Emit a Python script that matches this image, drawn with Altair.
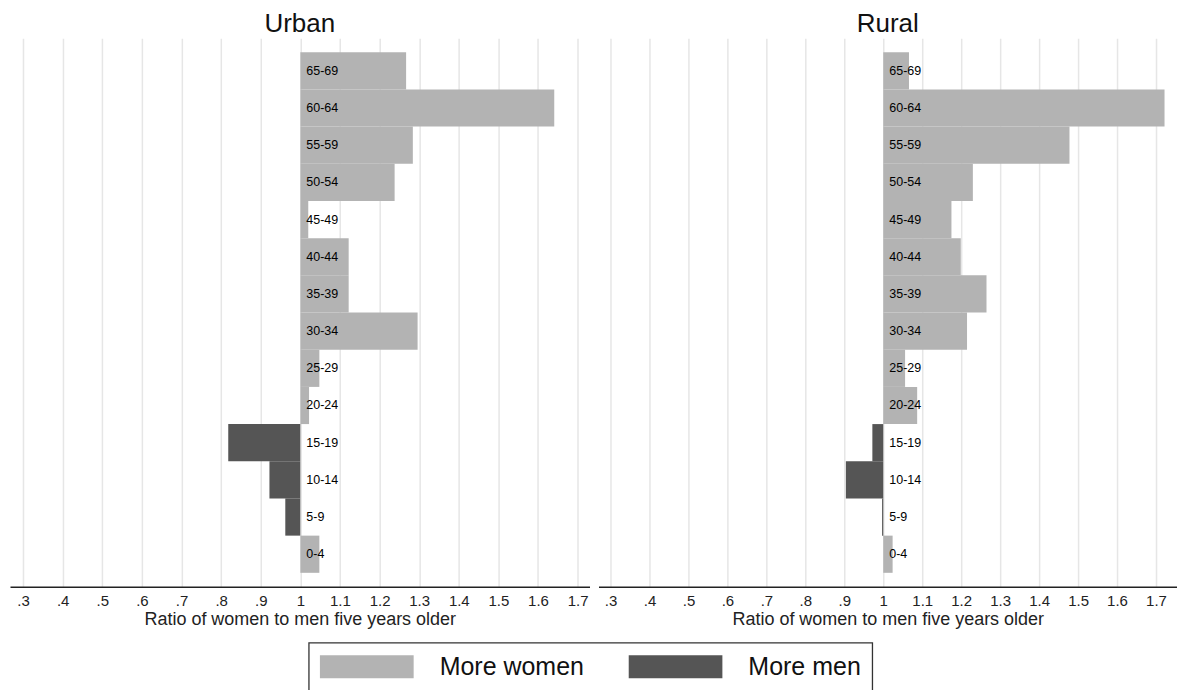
import altair as alt
import pandas as pd

age_groups = ["0-4", "5-9", "10-14", "15-19", "20-24", "25-29", "30-34",
              "35-39", "40-44", "45-49", "50-54", "55-59", "60-64", "65-69"]
urban = [1.048, 0.962, 0.922, 0.818, 1.022, 1.048, 1.296,
         1.122, 1.122, 1.020, 1.238, 1.284, 1.641, 1.267]
rural = [1.024, 0.997, 0.904, 0.972, 1.087, 1.056, 1.215,
         1.265, 1.199, 1.175, 1.230, 1.478, 1.722, 1.066]
panels = ["Urban", "Rural"]
tick_values = [0.3, 0.4, 0.5, 0.6, 0.7, 0.8, 0.9, 1.0, 1.1, 1.2, 1.3, 1.4, 1.5, 1.6, 1.7]
tick_labels = [".3", ".4", ".5", ".6", ".7", ".8", ".9", "1", "1.1", "1.2", "1.3", "1.4", "1.5", "1.6", "1.7"]
legend_labels = ["More women", "More men"]
colors = ["#b3b3b3", "#555555"]
x_title = "Ratio of women to men five years older"

rows = []
for area, vals in zip(panels, [urban, rural]):
    for a, v in zip(age_groups, vals):
        rows.append({"area": area, "age": a, "value": v,
                     "group": legend_labels[0] if v >= 1 else legend_labels[1]})
df = pd.DataFrame(rows)

label_map = "{" + ", ".join(f"'{v:g}': '{l}'" for v, l in zip(tick_values, tick_labels)) + "}"
label_expr = f"{label_map}[toString(datum.value)]"

FONT = "Liberation Sans"


def panel(area, domain, width):
    base = alt.Chart(df).transform_filter(alt.datum.area == area)
    y = alt.Y("age:N", sort=age_groups[::-1], axis=None,
              scale=alt.Scale(paddingInner=0, paddingOuter=0.376))
    xaxis = alt.Axis(values=tick_values, labelExpr=label_expr, title=x_title,
                     grid=True, gridColor="#e6e6e6", gridWidth=1.5,
                     ticks=False, domainColor="#222222", domainWidth=1.4,
                     labelFont=FONT, labelFontSize=15, labelColor="#222222",
                     labelPadding=7, titleFont=FONT, titleFontSize=18,
                     titleFontWeight="normal", titleColor="#222222", titlePadding=2)
    bars = base.mark_bar(strokeWidth=0).encode(
        x=alt.X("value:Q", scale=alt.Scale(domain=domain, zero=False, nice=False), axis=xaxis),
        x2=alt.datum(1),
        y=y,
        color=alt.Color("group:N",
                        scale=alt.Scale(domain=legend_labels, range=colors),
                        legend=alt.Legend(title=None)),
    )
    text = base.mark_text(align="left", baseline="middle", dx=6, font=FONT,
                          fontSize=12.5, color="#000000").encode(
        x=alt.datum(1), y=y, text="age:N")
    return alt.layer(bars, text).properties(
        width=width, height=549,
        title=alt.Title(area, fontSize=26, font=FONT, fontWeight="normal",
                        color="#111111", anchor="middle", offset=1))


left = panel("Urban", [0.267, 1.73], 580)
right = panel("Rural", [0.269, 1.754], 579)

chart = alt.hconcat(left, right, spacing=9).properties(
    padding={"left": 2, "top": 3, "right": 0, "bottom": 0}
).configure_view(stroke=None).configure_legend(
    orient="none", legendX=299, legendY=605, direction="horizontal",
    strokeColor="#333333", strokeWidth=1.3, fillColor="white", padding=11,
    symbolType="M-1,-0.245L1,-0.245L1,0.245L-1,0.245Z", symbolSize=8836,
    symbolStrokeWidth=0, symbolOpacity=1, labelFont=FONT, labelFontSize=25,
    labelColor="#111111", labelOffset=26, columnPadding=44, cornerRadius=0,
    clipHeight=26,
)

chart.save("out.html", embed_options={"renderer": "svg", "actions": False})
